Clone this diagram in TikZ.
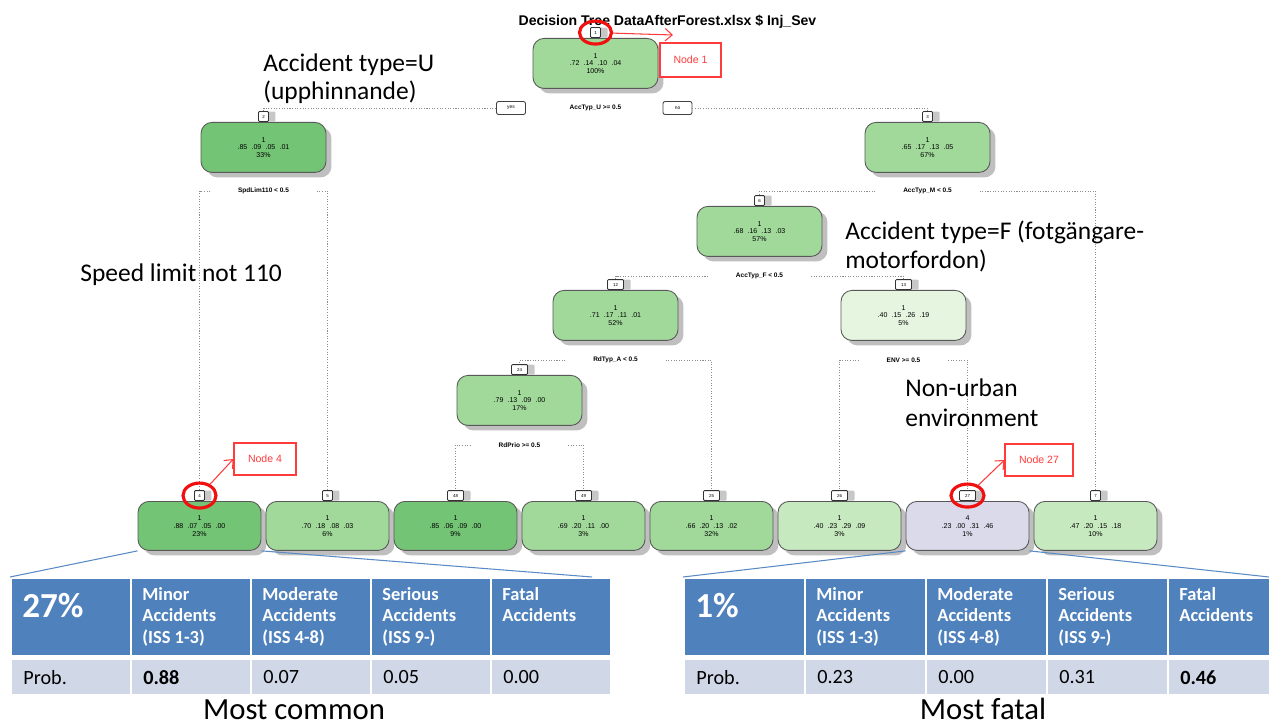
\documentclass[tikz,border=0pt]{standalone}
\usepackage{fontspec}
\setmainfont{Carlito}
\newfontfamily\arialf{Liberation Sans}
\usetikzlibrary{shadows,shapes.geometric,arrows.meta}
\definecolor{dgreen}{HTML}{74C476}
\definecolor{mgreen}{HTML}{A1D99B}
\definecolor{lgreen}{HTML}{C7E9C0}
\definecolor{vlgreen}{HTML}{E5F5E0}
\definecolor{lav}{HTML}{DADAEB}
\definecolor{hblue}{HTML}{4F81BD}
\definecolor{bblue}{HTML}{D0D8E8}
\definecolor{lineblue}{HTML}{5A8AC6}
\definecolor{redmark}{HTML}{F01010}
\definecolor{redsoft}{HTML}{FF3B3B}
% class probabilities inside a tree node
\newcommand{\probs}[4]{#1\hspace{.6em}#2\hspace{.6em}#3\hspace{.6em}#4}
\begin{document}
\begin{tikzpicture}[x=0.02cm,y=-0.02cm,
  treenode/.style={draw=black!65, line width=0.5pt, rounded corners=0.22cm,
    minimum width=2.5cm, minimum height=1.0cm, inner sep=0pt, align=center, anchor=north,
    font=\arialf\fontsize{4}{4.4}\selectfont,
    drop shadow={shadow xshift=0.11cm, shadow yshift=-0.1cm, fill=black!25, opacity=1}},
  leafnode/.style={treenode, minimum width=2.46cm, minimum height=0.98cm},
  numbox/.style={draw=black!80, fill=white, line width=0.5pt, rounded corners=0.6pt,
    minimum width=0.2cm, minimum height=0.2cm, inner sep=0.3pt, anchor=south,
    font=\arialf\fontsize{2.5}{3}\selectfont,
    drop shadow={shadow xshift=0.14cm, shadow yshift=0cm, fill=black!22, opacity=1}},
  wide/.style={minimum width=0.32cm},
  ynbox/.style={draw=black!75, fill=white, line width=0.5pt, rounded corners=1.2pt,
    minimum width=0.58cm, minimum height=0.26cm, inner sep=0pt,
    font=\arialf\fontsize{2.8}{3}\selectfont},
  splitlbl/.style={inner ysep=0pt, inner xsep=0.55cm, font=\arialf\bfseries\fontsize{3.7}{4}\selectfont},
  conn/.style={draw=black!45, line width=0.45pt, dash pattern=on 0.6pt off 0.9pt},
  redring/.style={ellipse, draw=redmark, line width=1.8pt, inner sep=0pt},
  redbox/.style={draw=redsoft, line width=0.6pt, fill=white, inner sep=0pt,
    text=redsoft, font=\arialf\fontsize{6}{7}\selectfont},
  redarrow/.style={draw=redsoft, line width=0.6pt, -{Straight Barb[length=4pt,width=7pt]}},
  annot/.style={anchor=base west, inner sep=0pt, font=\fontsize{14.5}{16}\selectfont},
  blueline/.style={draw=lineblue, line width=0.6pt},
  hcell/.style={fill=hblue, draw=white, line width=1.4pt, minimum width=2.4cm,
    minimum height=1.56cm, anchor=north west, inner sep=0pt},
  bcell/.style={fill=bblue, draw=white, line width=1.4pt, minimum width=2.4cm,
    minimum height=0.72cm, anchor=north west, inner sep=0pt},
  htext/.style={anchor=north west, align=left, inner sep=0pt, text=white,
    font=\bfseries\fontsize{10.5}{12.2}\selectfont, xshift=0.24cm, yshift=-0.2cm},
  bigpct/.style={anchor=north west, inner sep=0pt, text=white,
    font=\bfseries\fontsize{20}{22}\selectfont, xshift=0.24cm, yshift=-0.32cm},
  btext/.style={anchor=west, inner sep=0pt, font=\fontsize{11.5}{13}\selectfont, xshift=0.26cm},
  caption/.style={anchor=base, inner sep=0pt, font=\fontsize{17.5}{19}\selectfont}
]
\clip (0,0) rectangle (1269,726);

% title
\node[anchor=base, inner sep=0pt, font=\arialf\bfseries\fontsize{8}{9}\selectfont] (title)
  at (667.5,26) {Decision Tree DataAfterForest.xlsx \$ Inj\_Sev};

% ---------- tree nodes ----------
\node[treenode, fill=mgreen] (n1) at (595.5,38) {1\\\probs{.72}{.14}{.10}{.04}\\100\%};
\node[treenode, fill=dgreen] (n2) at (263.5,122) {1\\\probs{.85}{.09}{.05}{.01}\\33\%};
\node[treenode, fill=mgreen] (n3) at (927.5,122) {1\\\probs{.65}{.17}{.13}{.05}\\67\%};
\node[treenode, fill=mgreen] (n6) at (759.5,206) {1\\\probs{.68}{.16}{.13}{.03}\\57\%};
\node[treenode, fill=mgreen] (n12) at (615.5,290) {1\\\probs{.71}{.17}{.11}{.01}\\52\%};
\node[treenode, fill=vlgreen] (n13) at (903.5,290) {1\\\probs{.40}{.15}{.26}{.19}\\5\%};
\node[treenode, fill=mgreen] (n24) at (519.5,375) {1\\\probs{.79}{.13}{.09}{.00}\\17\%};

\node[leafnode, fill=dgreen] (n4) at (199.5,501) {1\\\probs{.88}{.07}{.05}{.00}\\23\%};
\node[leafnode, fill=mgreen] (n5) at (327.5,501) {1\\\probs{.70}{.18}{.08}{.03}\\6\%};
\node[leafnode, fill=dgreen] (n48) at (455.5,501) {1\\\probs{.85}{.06}{.09}{.00}\\9\%};
\node[leafnode, fill=mgreen] (n49) at (583.5,501) {1\\\probs{.69}{.20}{.11}{.00}\\3\%};
\node[leafnode, fill=mgreen] (n25) at (711.5,501) {1\\\probs{.66}{.20}{.13}{.02}\\32\%};
\node[leafnode, fill=lgreen] (n26) at (839.5,501) {1\\\probs{.40}{.23}{.29}{.09}\\3\%};
\node[leafnode, fill=lav] (n27) at (967.5,501) {4\\\probs{.23}{.00}{.31}{.46}\\1\%};
\node[leafnode, fill=lgreen] (n7) at (1095.5,501) {1\\\probs{.47}{.20}{.15}{.18}\\10\%};

% node numbers
\node[numbox] (b1) at (n1.north) {1};
\node[numbox] (b2) at (n2.north) {2};
\node[numbox] (b3) at (n3.north) {3};
\node[numbox] (b6) at (n6.north) {6};
\node[numbox, wide] (b12) at (n12.north) {12};
\node[numbox, wide] (b13) at (n13.north) {13};
\node[numbox, wide] (b24) at (n24.north) {24};
\node[numbox] (b4) at (n4.north) {4};
\node[numbox] (b5) at (n5.north) {5};
\node[numbox, wide] (b48) at (n48.north) {48};
\node[numbox, wide] (b49) at (n49.north) {49};
\node[numbox, wide] (b25) at (n25.north) {25};
\node[numbox, wide] (b26) at (n26.north) {26};
\node[numbox, wide] (b27) at (n27.north) {27};
\node[numbox] (b7) at (n7.north) {7};

% split labels
\node[ynbox] (yes) at (511,108) {yes};
\node[ynbox] (no) at (677.5,108) {no};
\node[splitlbl] (s1) at (595.5,108) {AccTyp\_U >= 0.5};
\node[splitlbl] (s2) at (263.5,191) {SpdLim110 < 0.5};
\node[splitlbl] (s3) at (927.5,191) {AccTyp\_M < 0.5};
\node[splitlbl] (s6) at (759.5,276) {AccTyp\_F < 0.5};
\node[splitlbl] (s12) at (615.5,360) {RdTyp\_A < 0.5};
\node[splitlbl] (s13) at (903.5,360) {ENV >= 0.5};
\node[splitlbl] (s24) at (519.5,445) {RdPrio >= 0.5};

% branches
\draw[conn] (yes.west) -| (b2.north);
\draw[conn] (no.east) -| (b3.north);
\draw[conn] (s2.west) -| (b4.north);
\draw[conn] (s2.east) -| (b5.north);
\draw[conn] (s3.west) -| (b6.north);
\draw[conn] (s3.east) -| (b7.north);
\draw[conn] (s6.west) -| (b12.north);
\draw[conn] (s6.east) -| (b13.north);
\draw[conn] (s12.west) -| (b24.north);
\draw[conn] (s12.east) -| (b25.north);
\draw[conn] (s13.west) -| (b26.north);
\draw[conn] (s13.east) -| (b27.north);
\draw[conn] (s24.west) -| (b48.north);
\draw[conn] (s24.east) -| (b49.north);

% explanations
\node[annot] (a1) at (263,72) {Accident type=U};
\node[annot] (a2) at (263,100) {(upphinnande)};
\node[annot] (a3) at (80,282) {Speed limit not 110};
\node[annot] (a4) at (845,240) {Accident type=F (fotgängare-};
\node[annot] (a5) at (845,269) {motorfordon)};
\node[annot] (a6) at (905,397) {Non-urban};
\node[annot] (a7) at (905,427) {environment};

% highlighted nodes
\node[redring, minimum width=0.64cm, minimum height=0.46cm] (r1) at (b1) {};
\node[redbox, minimum width=1.22cm, minimum height=0.68cm] (lab1) at (690.5,60) {Node 1};
\coordinate (tip1) at (673,35);
\draw[redarrow] (r1) -- (tip1);

\node[redring, minimum width=0.66cm, minimum height=0.5cm] (r4) at (b4) {};
\node[redbox, minimum width=1.24cm, minimum height=0.64cm] (lab4) at (265,459) {Node 4};
\draw[redarrow] (r4) -- (lab4.west);

\node[redring, minimum width=0.66cm, minimum height=0.46cm] (r27) at (b27) {};
\node[redbox, minimum width=1.36cm, minimum height=0.64cm] (lab27) at (1039,460) {Node 27};
\draw[redarrow] (r27) -- (lab27.west);

% ---------- left table ----------
\node[hcell] (hL0) at (10,577) {};
\node[hcell] (hL1) at (130,577) {};
\node[hcell] (hL2) at (250,577) {};
\node[hcell] (hL3) at (370,577) {};
\node[hcell] (hL4) at (490,577) {};
\node[bcell] (bL0) at (10,658) {};
\node[bcell] (bL1) at (130,658) {};
\node[bcell] (bL2) at (250,658) {};
\node[bcell] (bL3) at (370,658) {};
\node[bcell] (bL4) at (490,658) {};
\node[bigpct] (tL0) at (hL0.north west) {27\%};
\node[htext] (tL1) at (hL1.north west) {Minor\\Accidents\\(ISS 1-3)};
\node[htext] (tL2) at (hL2.north west) {Moderate\\Accidents\\(ISS 4-8)};
\node[htext] (tL3) at (hL3.north west) {Serious\\Accidents\\(ISS 9-)};
\node[htext] (tL4) at (hL4.north west) {Fatal\\Accidents};
\node[btext] (vL0) at (bL0.west) {Prob.};
\node[btext] (vL1) at (bL1.west) {\textbf{0.88}};
\node[btext] (vL2) at (bL2.west) {0.07};
\node[btext] (vL3) at (bL3.west) {0.05};
\node[btext] (vL4) at (bL4.west) {0.00};
\node[caption] (capL) at (294,719) {Most common};

% ---------- right table ----------
\node[hcell, minimum width=2.42cm] (hR0) at (683,577) {};
\node[hcell, minimum width=2.42cm] (hR1) at (804,577) {};
\node[hcell, minimum width=2.42cm] (hR2) at (925,577) {};
\node[hcell, minimum width=2.42cm] (hR3) at (1046,577) {};
\node[hcell, minimum width=2.42cm] (hR4) at (1167,577) {};
\node[bcell, minimum width=2.42cm] (bR0) at (683,658) {};
\node[bcell, minimum width=2.42cm] (bR1) at (804,658) {};
\node[bcell, minimum width=2.42cm] (bR2) at (925,658) {};
\node[bcell, minimum width=2.42cm] (bR3) at (1046,658) {};
\node[bcell, minimum width=2.42cm] (bR4) at (1167,658) {};
\node[bigpct] (tR0) at (hR0.north west) {1\%};
\node[htext] (tR1) at (hR1.north west) {Minor\\Accidents\\(ISS 1-3)};
\node[htext] (tR2) at (hR2.north west) {Moderate\\Accidents\\(ISS 4-8)};
\node[htext] (tR3) at (hR3.north west) {Serious\\Accidents\\(ISS 9-)};
\node[htext] (tR4) at (hR4.north west) {Fatal\\Accidents};
\node[btext] (vR0) at (bR0.west) {Prob.};
\node[btext] (vR1) at (bR1.west) {0.23};
\node[btext] (vR2) at (bR2.west) {0.00};
\node[btext] (vR3) at (bR3.west) {0.31};
\node[btext] (vR4) at (bR4.west) {\textbf{0.46}};
\node[caption] (capR) at (983,719) {Most fatal};

% callout lines from the leaves to their tables
\coordinate (endL) at (592,577);
\coordinate (endR) at (1269,577);
\draw[blueline] (n4.south west) -- (hL0.north west);
\draw[blueline] (n4.south east) -- (endL);
\draw[blueline] (n27.south west) -- (hR0.north west);
\draw[blueline] (n27.south east) -- (endR);
\end{tikzpicture}
\end{document}
